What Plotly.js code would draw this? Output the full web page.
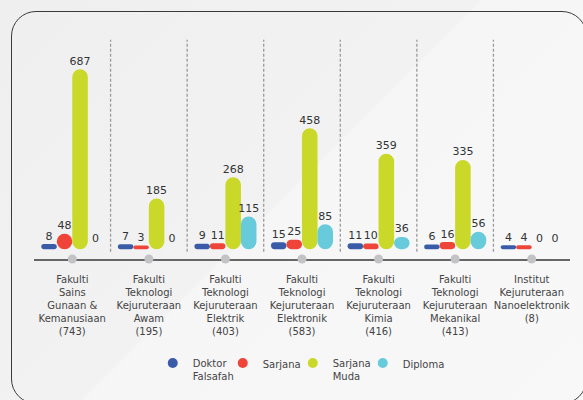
<!DOCTYPE html>
<html>
<head>
<meta charset="utf-8">
<script src="https://cdn.plot.ly/plotly-3.0.1.min.js"></script>
<style>
  html, body { margin: 0; padding: 0; }
  body {
    width: 583px; height: 400px; overflow: hidden; position: relative;
    background: linear-gradient(135deg, #efeff0 0%, #f2f2f3 48.8%, #f6f6f7 49.2%, #f8f8f9 100%);
  }
  #frame {
    position: absolute; left: 11px; top: 11px; width: 576px; height: 393px;
    border: 1.3px solid #3a3a3a; border-radius: 25px; box-sizing: border-box;
  }
  #chart { position: absolute; left: 0; top: 0; width: 583px; height: 400px; }
</style>
</head>
<body>
<div id="frame"></div>
<div id="chart"></div>
<script>
// ---- data ----
const categories = [
  "Fakulti<br>Sains<br>Gunaan &<br>Kemanusiaan<br>(743)",
  "Fakulti<br>Teknologi<br>Kejuruteraan<br>Awam<br>(195)",
  "Fakulti<br>Teknologi<br>Kejuruteraan<br>Elektrik<br>(403)",
  "Fakulti<br>Teknologi<br>Kejuruteraan<br>Elektronik<br>(583)",
  "Fakulti<br>Teknologi<br>Kejuruteraan<br>Kimia<br>(416)",
  "Fakulti<br>Teknologi<br>Kejuruteraan<br>Mekanikal<br>(413)",
  "Institut<br>Kejuruteraan<br>Nanoelektronik<br>(8)"
];
const doktorFalsafah = [8, 7, 9, 15, 11, 6, 4];
const sarjana        = [48, 3, 11, 25, 10, 16, 4];
const sarjanaMuda    = [687, 185, 268, 458, 359, 335, 0];
const diploma        = [0, 0, 115, 85, 36, 56, 0];

const seriesNames  = ["Doktor<br>Falsafah", "Sarjana", "Sarjana<br>Muda", "Diploma"];
const seriesValues = [doktorFalsafah, sarjana, sarjanaMuda, diploma];
const seriesColors = ["#3a5ca8", "#ef4438", "#cad929", "#68cbdb"];

const Y_MIN = -44, Y_MAX = 822;
const FONT = "DejaVu Sans, Roboto, sans-serif";

const traces = [];
seriesValues.forEach((vals, s) => {
  traces.push({
    type: "bar", x: categories, y: vals, base: vals.map(() => 0),
    name: seriesNames[s],
    marker: { color: seriesColors[s], cornerradius: "50%",
              line: { color: seriesColors[s], width: vals.map(v => (v > 0 ? 3 : 0)) } },
    text: vals.map(String), textposition: "outside", cliponaxis: false,
    constraintext: "none",
    textfont: { family: FONT, size: 11, color: "#333333" },
    showlegend: false, hoverinfo: "skip"
  });
});

// axis dots
traces.push({
  type: "scatter", mode: "markers", x: categories, y: categories.map(() => Y_MIN),
  marker: { size: 9, color: "#c3c3c5" }, cliponaxis: false,
  showlegend: false, hoverinfo: "skip"
});

// legend entries (circles)
seriesNames.forEach((n, s) => {
  traces.push({
    type: "scatter", mode: "markers", x: [null], y: [null], name: n,
    marker: { size: 10, color: seriesColors[s] }, hoverinfo: "skip"
  });
});
// blank spacer entry so the last legend label is not clipped
traces.push({
  type: "scatter", mode: "markers", x: [null], y: [null], name: " ",
  marker: { size: 1, color: "rgba(0,0,0,0)" }, hoverinfo: "skip"
});

const shapes = [];
for (let i = 0; i < categories.length - 1; i++) {
  shapes.push({
    type: "line", xref: "x", yref: "paper", x0: i + 0.5, x1: i + 0.5, y0: 0.033, y1: 0.983,
    line: { color: "#9a9a9a", width: 1.3, dash: "3px,2px" }, layer: "below"
  });
}

const layout = {
  width: 583, height: 400,
  margin: { l: 34, r: 13, t: 36, b: 141 },
  paper_bgcolor: "rgba(0,0,0,0)", plot_bgcolor: "rgba(0,0,0,0)",
  barmode: "group", bargap: 0.19, bargroupgap: 0.19,
  showlegend: true,
  font: { family: FONT, color: "#444444" },
  xaxis: {
    type: "category", showgrid: false, zeroline: false,
    showline: true, linecolor: "#666666", linewidth: 2, layer: "below traces",
    ticks: "", ticklabelstandoff: 10,
    tickfont: { family: FONT, size: 10, color: "#444444" },
    fixedrange: true
  },
  yaxis: {
    range: [Y_MIN, Y_MAX], showgrid: false, zeroline: false, showline: false,
    showticklabels: false, ticks: "", fixedrange: true
  },
  legend: {
    orientation: "h", xref: "container", yref: "container",
    x: 0.262, xanchor: "left", y: 0.125, yanchor: "top", valign: "top",
    entrywidth: 25, entrywidthmode: "pixels",
    font: { family: FONT, size: 10, color: "#444444" },
    bgcolor: "rgba(0,0,0,0)", traceorder: "normal"
  },
  shapes: shapes
};

Plotly.newPlot("chart", traces, layout, { displayModeBar: false, staticPlot: true });
</script>
</body>
</html>
